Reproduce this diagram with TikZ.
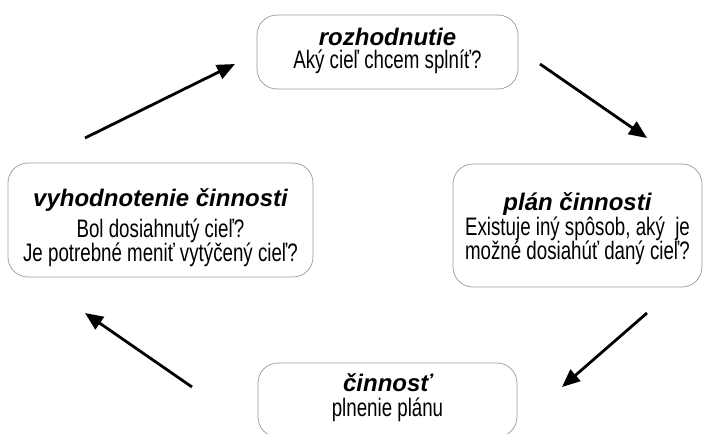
\documentclass[tikz,border=0pt]{standalone}
\usepackage{fontspec}
\setmainfont{Liberation Sans}
\newfontfamily\narrowsans[FakeStretch=0.74]{Liberation Sans}
\usepackage{tikz}
\usetikzlibrary{arrows.meta,positioning}
\colorlet{Frame}{black!40}

% title line of a box, with a strut that sets the space above it
\newcommand{\steptitle}[2]{\rule{0pt}{#1pt}{\fontsize{24}{24}\rmfamily\bfseries\itshape #2}}
% strut that sets the space below the last line
\newcommand{\stepfoot}[1]{\rule[-#1pt]{0pt}{#1pt}}

\begin{document}
\begin{tikzpicture}[
    x=1pt, y=-1pt,
    phase/.style={draw=Frame, line width=0.7pt, rounded corners=20pt, inner sep=0pt,
      align=center, font={\fontsize{25.3}{24}\narrowsans}},
    cycle/.style={-{Triangle[length=18pt,width=15pt]}, line width=2.8pt},
  ]
  \clip (0,0) rectangle (705,434);

  \node[phase, minimum width=261pt, minimum height=74pt] (decide) at (387.5,52)
  {\steptitle{18}{rozhodnutie}\\[-1pt]Aký cieľ chcem splníť?\stepfoot{9}};

  \node[phase, minimum width=249pt, minimum height=123pt] (plan) at (577.5,225.5)
  {\steptitle{24}{plán činnosti}\\[1pt]Existuje iný spôsob, aký\ \ je\\možné dosiahúť daný cieľ?\stepfoot{6}};

  \node[phase, minimum width=259pt, minimum height=74pt] (act) at (387.5,400)
  {\steptitle{18}{činnosť}\\[1pt]plnenie plánu\stepfoot{11}};

  \node[phase, minimum width=305pt, minimum height=114pt] (review) at (160.5,220)
  {\steptitle{33}{vyhodnotenie činnosti}\\[7pt]Bol dosiahnutý cieľ?\\Je potrebné meniť vytýčený cieľ?\stepfoot{6}};

  % arrows of the cycle
  \coordinate (c1) at (85,138);
  \coordinate (c2) at (235,64);
  \coordinate (c3) at (540,64);
  \coordinate (c4) at (647,138);
  \coordinate (c5) at (647,313);
  \coordinate (c6) at (562,387);
  \coordinate (c7) at (192,387);
  \coordinate (c8) at (85,313);

  \draw[cycle] (c1) -- (c2);
  \draw[cycle] (c3) -- (c4);
  \draw[cycle] (c5) -- (c6);
  \draw[cycle] (c7) -- (c8);
\end{tikzpicture}
\end{document}
